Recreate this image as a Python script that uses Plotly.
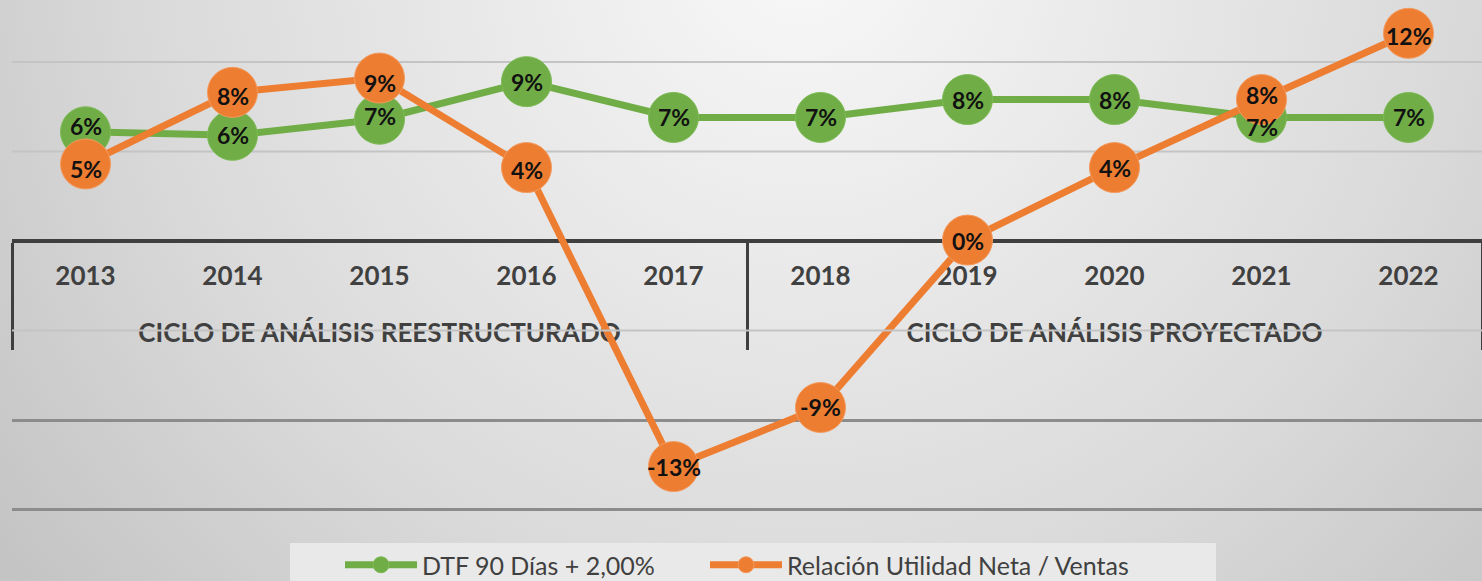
import base64
import plotly.graph_objects as go

# ---------------- data ----------------
years = ["2013", "2014", "2015", "2016", "2017", "2018", "2019", "2020", "2021", "2022"]
groups = ["CICLO DE ANÁLISIS REESTRUCTURADO"] * 5 + ["CICLO DE ANÁLISIS PROYECTADO"] * 5

dtf_name = "DTF 90 Días + 2,00%"
dtf_values = [6.1, 5.9, 6.8, 8.9, 6.9, 6.9, 7.9, 7.9, 6.9, 6.9]
dtf_labels = ["6%", "6%", "7%", "9%", "7%", "7%", "8%", "8%", "7%", "7%"]

util_name = "Relación Utilidad Neta / Ventas"
util_values = [4.3, 8.3, 9.1, 4.1, -12.6, -9.3, 0.05, 4.1, 7.9, 11.6]
util_labels = ["5%", "8%", "9%", "4%", "-13%", "-9%", "0%", "4%", "8%", "12%"]

upper_grid_levels = [5, 10]
label_grid_levels = [-5]
dark_grid_levels = [-15, -10]

# ---------------- style ----------------
GREEN = "#70AD47"
ORANGE = "#ED7D31"
TEXT = "#404040"
FONT = "Lato"
dtf_label_shift = [6, 0, 3, 0, 0, 0, 0, 0, -10, 0]
util_label_shift = [-5, -4, -5, -2, 0, 0, -1, 0, 5, -3]

W, H = 1482, 581
ML, MR, MT, MB = 12, 0, 5, 60
Y_RANGE = [-15.64, 13.18]
plot_h = H - MT - MB
pw = W - ML - MR

x_cat = [["<br>" + g for g in groups], years]

fig = go.Figure()
fig.add_trace(go.Scatter(
    x=x_cat, y=dtf_values, name=dtf_name, mode="lines+markers",
    line=dict(color=GREEN, width=7),
    marker=dict(color=GREEN, size=50, line=dict(color="#7dbb55", width=1)),
    hoverinfo="skip", legend="legend",
))
fig.add_trace(go.Scatter(
    x=x_cat, y=util_values, name=util_name, mode="lines+markers",
    line=dict(color=ORANGE, width=7),
    marker=dict(color=ORANGE, size=50, line=dict(color="#f39a5e", width=1)),
    hoverinfo="skip", legend="legend2",
))
# invisible helper trace for the darker gridline overlay axis
fig.add_trace(go.Scatter(
    x=x_cat, y=[None] * len(years), yaxis="y2", showlegend=False,
    hoverinfo="skip", mode="lines",
))

annotations = []
for vals, labels, shifts in ((dtf_values, dtf_labels, dtf_label_shift),
                             (util_values, util_labels, util_label_shift)):
    for i, (v, lab, s) in enumerate(zip(vals, labels, shifts)):
        annotations.append(dict(
            x=i, y=v, xref="x", yref="y", text=lab, showarrow=False,
            yshift=s, font=dict(family=FONT, size=23, color="#111111", weight="bold"),
        ))

# gradient background
svg = (
    f'<svg xmlns="http://www.w3.org/2000/svg" width="{W}" height="{H}" '
    f'viewBox="0 0 {W} {H}" preserveAspectRatio="none"><defs>'
    '<radialGradient id="g" gradientUnits="userSpaceOnUse" cx="800" cy="-50" r="1000">'
    '<stop offset="0" stop-color="#f8f8f8"/><stop offset="0.65" stop-color="#dadada"/>'
    '<stop offset="1" stop-color="#c4c4c4"/></radialGradient></defs>'
    f'<rect width="{W}" height="{H}" fill="url(#g)"/></svg>'
)
bg_src = "data:image/svg+xml;base64," + base64.b64encode(svg.encode()).decode()

zero_pos = (0 - Y_RANGE[0]) / (Y_RANGE[1] - Y_RANGE[0])
legend_top = -(542 - (H - MB)) / plot_h
box_top = -(543 - (H - MB)) / plot_h

shapes = [dict(
    type="rect", xref="paper", yref="paper", layer="below",
    x0=(290 - ML) / pw, x1=(1216 - ML) / pw, y0=box_top - 60 / plot_h, y1=box_top,
    fillcolor="#e9e9e9", line=dict(width=0),
)]
for levels, layer in ((upper_grid_levels, "between"), (label_grid_levels, "above")):
    for lvl in levels:
        shapes.append(dict(
            type="line", xref="paper", yref="y", x0=0, x1=1, y0=lvl, y1=lvl,
            layer=layer, line=dict(color="#c4c4c4", width=2),
        ))

legend_style = dict(
    orientation="h", xanchor="left", yanchor="top", y=legend_top,
    bgcolor="rgba(0,0,0,0)", font=dict(family=FONT, size=25, color=TEXT),
    itemwidth=72,
)

fig.update_layout(
    width=W, height=H,
    margin=dict(l=ML, r=MR, t=MT, b=MB, autoexpand=False),
    paper_bgcolor="#dcdcdc",
    plot_bgcolor="rgba(0,0,0,0)",
    font=dict(family=FONT, color=TEXT),
    images=[dict(
        source=bg_src, xref="paper", yref="paper",
        x=-ML / pw, y=1 + MT / plot_h, sizex=W / pw, sizey=H / plot_h,
        xanchor="left", yanchor="top", sizing="stretch", layer="below",
    )],
    shapes=shapes,
    xaxis=dict(
        type="multicategory", anchor="free", position=zero_pos,
        range=[-0.5, len(years) - 0.5],
        showline=True, linecolor="#3f3f3f", linewidth=4,
        showgrid=False, zeroline=False,
        ticks="", ticklabelstandoff=11,
        tickfont=dict(family=FONT, size=26, color=TEXT, weight="bold"),
        showdividers=True, dividercolor="#3f3f3f", dividerwidth=3,
        layer="below traces",
    ),
    yaxis=dict(
        range=Y_RANGE, showticklabels=False, zeroline=False, showgrid=False,
        layer="below traces",
    ),
    yaxis2=dict(
        range=Y_RANGE, overlaying="y", showticklabels=False, zeroline=False,
        tickvals=dark_grid_levels, gridcolor="#8c8c8c", gridwidth=3, showgrid=True,
        layer="below traces",
    ),
    showlegend=True,
    legend=dict(x=(340 - ML) / pw, **legend_style),
    legend2=dict(x=(705 - ML) / pw, **legend_style),
    annotations=annotations,
)

fig.write_html(
    "out.html",
    config={"displayModeBar": False},
    post_script="document.body.style.margin='0';document.body.style.overflow='hidden';",
)
